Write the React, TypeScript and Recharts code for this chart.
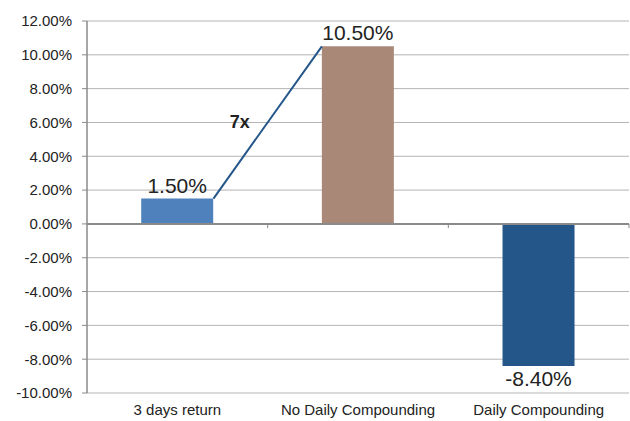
import React from "react";
import {
  BarChart,
  Bar,
  Cell,
  XAxis,
  YAxis,
  CartesianGrid,
  ReferenceLine,
} from "recharts";

// Leveraged ETF example: index return vs. 3x leverage with and without daily compounding
const categories = ["3 days return", "No Daily Compounding", "Daily Compounding"];
const returns = [1.5, 10.5, -8.4];
const barColors = ["#4F81BD", "#A98878", "#24568A"];
const yTicks = [-10, -8, -6, -4, -2, 0, 2, 4, 6, 8, 10, 12];

const data = categories.map((name, i) => ({ name, value: returns[i] }));
const leverageRatio = `${Math.round(returns[1] / returns[0])}x`;

const pct = (v: number) => `${v.toFixed(2)}%`;
const FONT = "'Liberation Sans', Arial, sans-serif";
// bars take 40% of each category band (30% gap on each side)
const BAR_HALF = 0.2;

function ValueLabel(props: any) {
  const { x, y, width, height, value } = props;
  const top = Math.min(y, y + height);
  const bottom = Math.max(y, y + height);
  const cx = x + width / 2;
  const ty = value >= 0 ? top - 6 : bottom + 20;
  return (
    <text x={cx} y={ty} textAnchor="middle" fontSize={21} fill="#222" fontFamily={FONT}>
      {pct(value)}
    </text>
  );
}

// Connector from the top-right corner of one bar to the top-left corner of the next,
// with the leverage ratio written beside it.
function Connector(props: any) {
  const { x1, y1, x2, y2 } = props;
  const band = x2 - x1;
  const sx = x1 + band * BAR_HALF;
  const ex = x2 - band * BAR_HALF;
  const mx = (sx + ex) / 2;
  const my = (y1 + y2) / 2;
  return (
    <g>
      <line x1={sx} y1={y1} x2={ex} y2={y2} stroke="#24568A" strokeWidth={2} />
      <text
        x={mx - 28}
        y={my + 6}
        textAnchor="middle"
        fontSize={18}
        fontWeight="bold"
        fill="#222"
        fontFamily={FONT}
      >
        {leverageRatio}
      </text>
    </g>
  );
}

export default function App() {
  return (
    <div style={{ position: "absolute", left: 0, top: 0, background: "#fff" }}>
      <BarChart
        width={630}
        height={421}
        data={data}
        margin={{ top: 21, right: 1, left: 0, bottom: 0 }}
        barCategoryGap="30%"
        style={{ fontFamily: FONT }}
      >
        <CartesianGrid vertical={false} stroke="#b4b4b4" strokeWidth={1} />
        <XAxis
          dataKey="name"
          height={28}
          axisLine={false}
          tickLine={false}
          tickSize={0}
          tickMargin={11}
          tick={{ fontSize: 15, fill: "#222" }}
          interval={0}
        />
        <YAxis
          width={87}
          domain={[-10, 12]}
          ticks={yTicks}
          interval={0}
          tickFormatter={pct}
          tickSize={5}
          tickMargin={10}
          axisLine={{ stroke: "#8a8a8a", strokeWidth: 1.5 }}
          tickLine={{ stroke: "#8a8a8a" }}
          tick={{ fontSize: 15, fill: "#222" }}
        />
        <Bar dataKey="value" isAnimationActive={false} label={<ValueLabel />}>
          {data.map((d, i) => (
            <Cell key={d.name} fill={barColors[i]} />
          ))}
        </Bar>
        <ReferenceLine y={0} stroke="#8a8a8a" strokeWidth={2} />
        {/* short category separators hanging below the zero line */}
        {[
          { cat: categories[1], pos: "start" },
          { cat: categories[2], pos: "start" },
          { cat: categories[2], pos: "end" },
        ].map((t, i) => (
          <ReferenceLine
            key={i}
            position={t.pos as any}
            segment={[
              { x: t.cat, y: 0 },
              { x: t.cat, y: -0.25 },
            ]}
            stroke="#8a8a8a"
            strokeWidth={1}
            ifOverflow="visible"
          />
        ))}
        <ReferenceLine
          segment={[
            { x: categories[0], y: returns[0] },
            { x: categories[1], y: returns[1] },
          ]}
          ifOverflow="visible"
          shape={<Connector />}
        />
      </BarChart>
    </div>
  );
}
